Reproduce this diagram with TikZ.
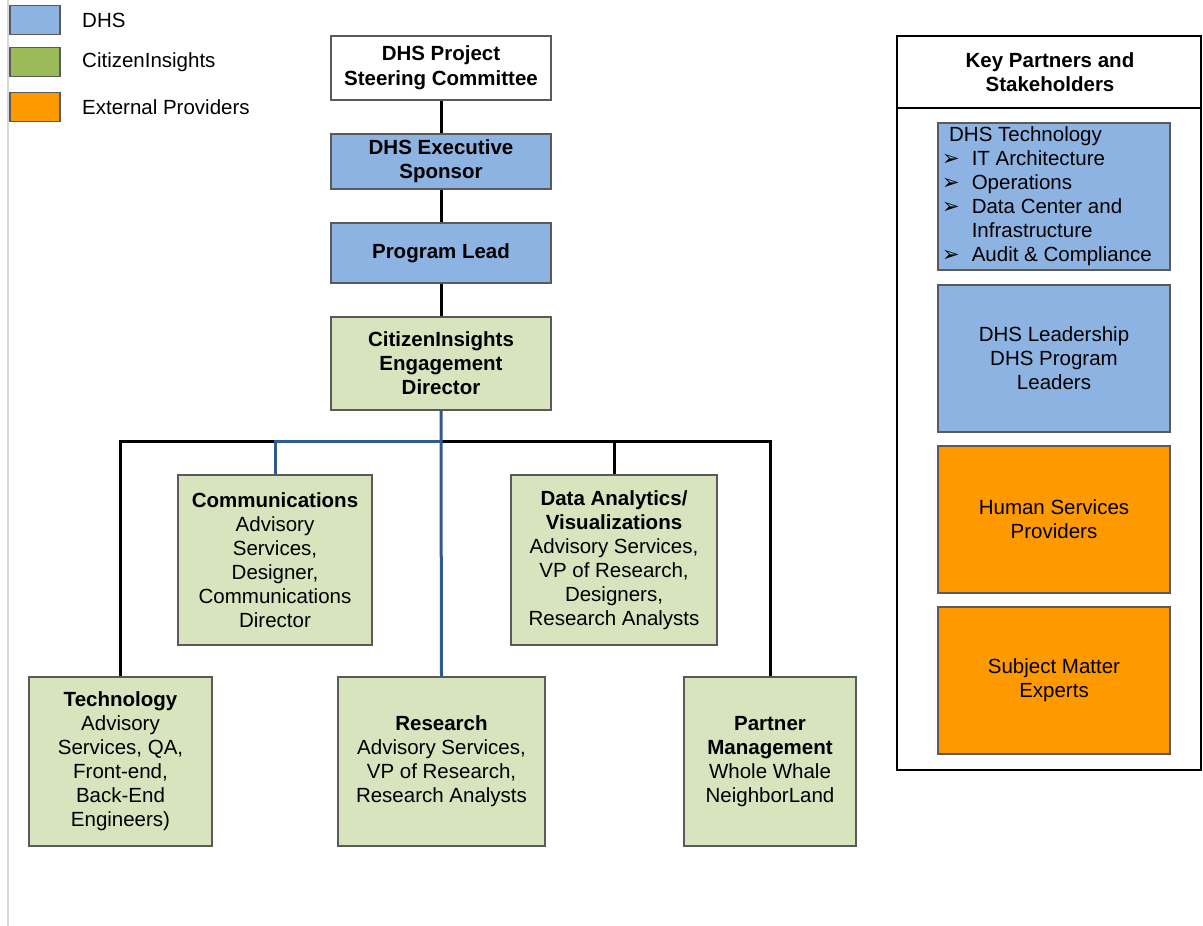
\documentclass[tikz,border=0pt]{standalone}
\usepackage{fontspec}
\setmainfont{Liberation Sans}
\newfontfamily\symfont{DejaVu Sans}
\usepackage{xcolor}
\usepackage{tikz}
\usetikzlibrary{positioning}

\definecolor{dhsblue}{HTML}{8DB3E2}
\definecolor{cigreen}{HTML}{D7E4BD}
\definecolor{cilegend}{HTML}{9BBB59}
\definecolor{extorange}{HTML}{FF9900}
\definecolor{boxline}{HTML}{5A5A5A}
\definecolor{busblue}{HTML}{2F5A8E}

\newcommand{\arw}{{\symfont\fontsize{21}{24}\selectfont ➢}}

\begin{document}
\begin{tikzpicture}[x=1pt,y=-1pt,node distance=32.5pt,
    every node/.style={font=\fontsize{20.5}{24}\selectfont,align=center,inner sep=0pt},
    box/.style={draw=boxline,line width=1.5pt,minimum width=220pt},
    dhs/.style={box,fill=dhsblue},
    ci/.style={box,fill=cigreen},
    ext/.style={box,fill=extorange,minimum width=232pt,minimum height=147pt},
    legbox/.style={draw=boxline,line width=1.5pt,minimum width=50pt,minimum height=29pt},
    link/.style={line width=3pt},
    buslink/.style={line width=3pt,busblue}]

\useasboundingbox (0,0) rectangle (1203,926);
\draw[black!15,line width=2pt] (8,0) -- (8,926);

\node[legbox,fill=dhsblue]   (leg_dhs) at (35,20) {};
\node[legbox,fill=cilegend]  (leg_ci)  at (35,62) {};
\node[legbox,fill=extorange] (leg_ext) at (35,107) {};
\node[anchor=west] (leg_dhs_txt) at (82,20)  {DHS};
\node[anchor=west] (leg_ci_txt)  at (82,62)  {CitizenInsights};
\node[anchor=west] (leg_ext_txt) at (82,107) {External Providers};

\node[box,fill=white,minimum height=64pt] (steering) at (441,68) {\textbf{DHS Project}\\[1pt]\textbf{Steering Committee}};
\node[dhs,minimum height=55pt] (sponsor) [below=of steering] {\textbf{DHS Executive}\\\textbf{Sponsor}};
\node[dhs,minimum height=60pt] (lead) [below=of sponsor] {\textbf{Program Lead}};
\node[ci,minimum height=93pt] (director) [below=of lead] {\textbf{CitizenInsights}\\\textbf{Engagement}\\\textbf{Director}};

\coordinate (bus) at (441,441);

\node[ci,minimum width=194pt,minimum height=170pt] (comms) at (275,560)
    {\textbf{Communications}\\Advisory\\Services,\\Designer,\\Communications\\Director};
\node[ci,minimum width=206pt,minimum height=170pt] (analytics) at (614,560)
    {\textbf{Data Analytics/}\\\textbf{Visualizations}\\Advisory Services,\\VP of Research,\\Designers,\\Research Analysts};
\node[ci,minimum width=183pt,minimum height=169pt] (tech) at (120.5,761.5)
    {\textbf{Technology}\\Advisory\\Services, QA,\\Front-end,\\Back-End\\Engineers)};
\node[ci,minimum width=207pt,minimum height=169pt] (research) at (441.5,761.5)
    {\textbf{Research}\\Advisory Services,\\VP of Research,\\Research Analysts};
\node[ci,minimum width=172pt,minimum height=169pt] (partner) at (770,761.5)
    {\textbf{Partner}\\\textbf{Management}\\Whole Whale\\NeighborLand};

\path[link]
    (steering) edge (sponsor)
    (sponsor) edge (lead)
    (lead) edge (director);
\draw[link] (tech.north) |- (bus) -| (partner.north);
\draw[link] (analytics.north) |- (bus);
\draw[buslink] (director.south) -- (bus) -- (research.north);
\draw[buslink] (comms.north) |- (bus);

\node[draw=black,line width=2.5pt,minimum width=304pt,minimum height=734pt] (panel) at (1049,403) {};
\draw[line width=2.5pt] (panel.west |- 0,108) -- (panel.east |- 0,108);
\node (panel_head) at (1050,72) {\textbf{Key Partners and}\\\textbf{Stakeholders}};

\node[dhs,minimum width=232pt,minimum height=147pt] (dhs_tech) at (1054,196.5)
    {\begin{tabular}{@{}l@{\hspace{12pt}}l@{}}
     \multicolumn{2}{@{\hspace{7pt}}l@{}}{DHS Technology}\\
     \arw & IT Architecture\\
     \arw & Operations\\
     \arw & Data Center and\\
          & Infrastructure\\
     \arw & Audit \& Compliance
     \end{tabular}\hspace*{14pt}};
\node[dhs,minimum width=232pt,minimum height=147pt] (dhs_leaders) at (1054,358.5)
    {DHS Leadership\\DHS Program\\Leaders};
\node[ext] (providers) at (1054,519.5) {Human Services\\Providers};
\node[ext] (experts) at (1054,680.5) {Subject Matter\\Experts};

\end{tikzpicture}
\end{document}
